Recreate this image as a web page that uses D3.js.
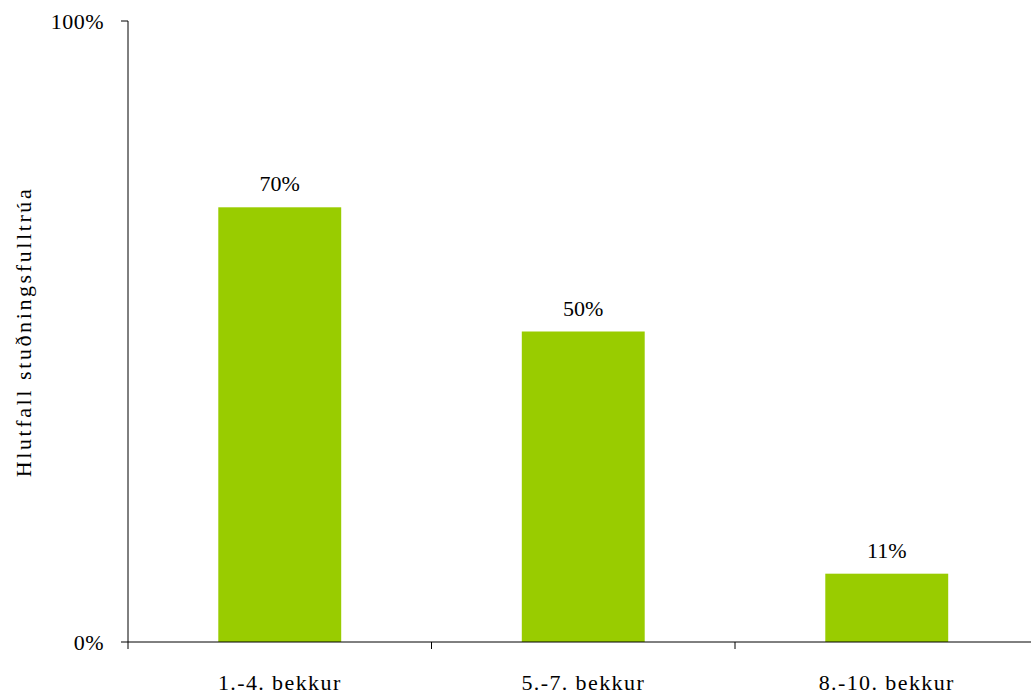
<!DOCTYPE html>
<html><head><meta charset="utf-8">
<script src="https://cdn.jsdelivr.net/npm/d3@7"></script>
<style>body{margin:0;background:#fff}svg{display:block}</style>
</head><body><svg id="c" width="1031" height="695"></svg>
<script>
const categories = ["1.-4. bekkur", "5.-7. bekkur", "8.-10. bekkur"];
const values = [70, 50, 11];
const yTickLabels = ["0%", "100%"];
const yTickValues = [0, 100];
const yTitle = "Hlutfall stuðningsfulltrúa";

(function(){
const FONT = "'Liberation Serif', serif";
const svg = d3.select("#c");
const mLeft = 128, mTop = 21, mBottom = 642;
const x = d3.scaleBand().domain(categories).range([mLeft, mLeft + 3*303.5]).paddingInner(0.595).paddingOuter(0.2975);
const y = d3.scaleLinear().domain([0, 100]).range([mBottom, mTop]);

svg.selectAll("rect.bar").data(values).join("rect")
  .attr("x", (d,i) => x(categories[i])).attr("width", x.bandwidth())
  .attr("y", d => y(d)).attr("height", d => mBottom - y(d))
  .attr("fill", "#99CC00");

svg.selectAll("text.val").data(values).join("text")
  .style("font-family", FONT)
  .attr("x", (d,i) => x(categories[i]) + x.bandwidth()/2)
  .attr("y", d => y(d) - 16)
  .attr("text-anchor", "middle").attr("font-size", 22)
  .text(d => d + "%");

svg.append("line").attr("x1", mLeft).attr("x2", mLeft).attr("y1", mTop).attr("y2", mBottom).attr("stroke", "#000").attr("stroke-width", 1);
yTickValues.forEach((v,i) => {
  svg.append("line").attr("x1", mLeft - 7).attr("x2", mLeft).attr("y1", y(v)).attr("y2", y(v)).attr("stroke", "#000");
  svg.append("text").style("font-family", FONT).attr("x", mLeft - 24).attr("y", y(v) + 8).attr("text-anchor", "end").attr("font-size", 22).attr("letter-spacing", 0.5).text(yTickLabels[i]);
});

svg.append("line").attr("x1", mLeft).attr("x2", 1031).attr("y1", mBottom).attr("y2", mBottom).attr("stroke", "#000");
for (let i = 0; i < 3; i++) {
  const tx = mLeft + i * x.step();
  svg.append("line").attr("x1", tx).attr("x2", tx).attr("y1", mBottom).attr("y2", mBottom + 7).attr("stroke", "#000");
}
svg.selectAll("text.cat").data(categories).join("text")
  .style("font-family", FONT)
  .attr("x", d => x(d) + x.bandwidth()/2).attr("y", 690)
  .attr("text-anchor", "middle").attr("font-size", 22).attr("letter-spacing", 1.4).text(d => d);

svg.append("text").style("font-family", FONT).attr("transform", "translate(31,332) rotate(-90)")
  .attr("text-anchor", "middle").attr("font-size", 22).attr("letter-spacing", 2.6).text(yTitle);
})();
</script></body></html>
